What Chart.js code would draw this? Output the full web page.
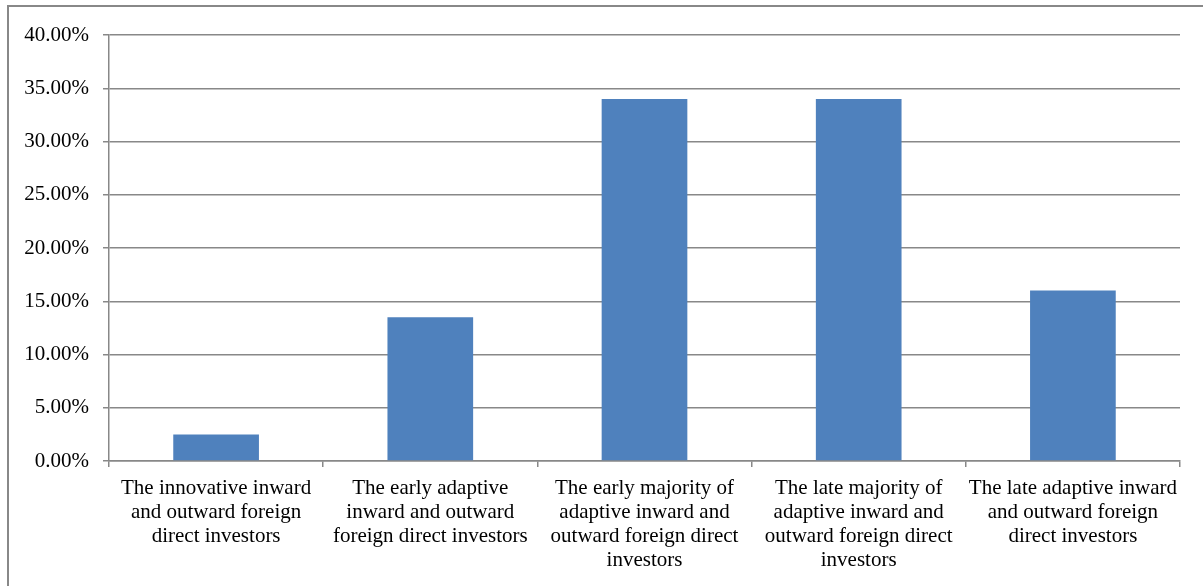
<!DOCTYPE html>
<html>
<head>
<meta charset="utf-8">
<script src="https://cdn.jsdelivr.net/npm/chart.js@4/dist/chart.umd.min.js"></script>
<style>
  html, body { margin: 0; padding: 0; background: #fff; }
  #wrap { position: relative; width: 1203px; height: 586px; overflow: hidden; }
  #frame {
    position: absolute; left: 7px; top: 5px; width: 1300px; height: 700px;
    border-left: 2px solid #888; border-top: 2px solid #888;
  }
  #chart { position: absolute; left: 0; top: 0; }
</style>
</head>
<body>
<div id="wrap">
  <div id="frame"></div>
  <canvas id="chart" width="1203" height="586"></canvas>
</div>
<script>
const investorGroups = [
  ["The innovative inward", "and outward foreign", "direct investors"],
  ["The early adaptive", "inward and outward", "foreign direct investors"],
  ["The early majority of", "adaptive inward and", "outward foreign direct", "investors"],
  ["The late majority of", "adaptive inward and", "outward foreign direct", "investors"],
  ["The late adaptive inward", "and outward foreign", "direct investors"]
];
const shares = [2.5, 13.5, 34, 34, 16];
const axisMax = 40;
const axisStep = 5;

const gray = "#888888";
const font = { family: "'Liberation Serif', 'Times New Roman', serif", size: 21, lineHeight: 24 / 21 };

new Chart(document.getElementById("chart"), {
  type: "bar",
  data: {
    labels: investorGroups,
    datasets: [{
      data: shares,
      backgroundColor: "#4F81BD",
      borderWidth: 0,
      categoryPercentage: 1,
      barPercentage: 0.4
    }]
  },
  options: {
    responsive: false,
    animation: false,
    events: [],
    layout: { padding: { top: 35, right: 23, left: 0, bottom: 0 } },
    plugins: { legend: { display: false }, tooltip: { enabled: false } },
    scales: {
      x: {
        grid: { drawOnChartArea: false, drawTicks: true, tickLength: 6, color: gray, lineWidth: 1.5 },
        border: { color: gray, width: 1.5 },
        ticks: { color: "#000", font: font, padding: 9, maxRotation: 0, autoSkip: false },
        afterFit: scale => { scale.height = 125; }
      },
      y: {
        min: 0,
        max: axisMax,
        grid: { color: gray, lineWidth: 1.5, tickLength: 6 },
        border: { color: gray, width: 1.5 },
        ticks: {
          stepSize: axisStep,
          color: "#000",
          font: font,
          padding: 14,
          callback: v => v.toFixed(2) + "%"
        },
        afterFit: scale => { scale.width = 109; }
      }
    }
  }
});
</script>
</body>
</html>
